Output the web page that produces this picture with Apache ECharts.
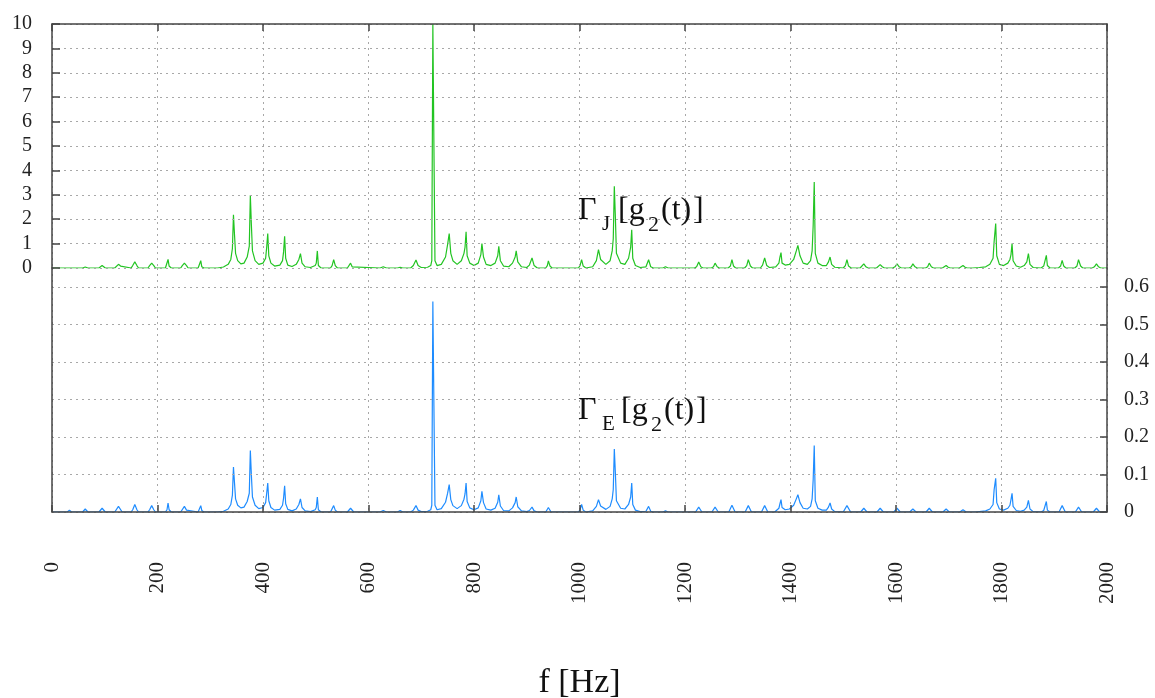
<!DOCTYPE html>
<html>
<head>
<meta charset="utf-8">
<script src="https://cdn.jsdelivr.net/npm/echarts@6/dist/echarts.min.js"></script>
<style>
html,body{margin:0;padding:0;background:#fff;}
#chart{width:1155px;height:698px;}
</style>
</head>
<body>
<div id="chart"></div>
<script>
// ---------- data ----------
const xTicks = [0, 200, 400, 600, 800, 1000, 1200, 1400, 1600, 1800, 2000];
const topTicks = [0, 1, 2, 3, 4, 5, 6, 7, 8, 9, 10];
const bottomTicks = [0, 0.1, 0.2, 0.3, 0.4, 0.5, 0.6];

// Gamma_J[g2(t)] spectrum  [f (Hz), value]
const gammaJ = [
[0,0],
[58,0],[63,0.04],[68,0],
[89,0],[95,0.1],[101,0],
[119,0],[122,0.08],[126,0.15],[130,0.08],[133,0],
[150,0],[153,0.1],[157,0.25],[161,0.1],[164,0],
[182,0],[185,0.1],[189,0.2],[193,0.1],[196,0],
[215,0],[218,0.08],[220,0.35],[222,0.08],[226,0],
[244,0],[247,0.1],[251,0.2],[255,0.1],[258,0],
[277,0],[280,0.06],[282,0.3],[284,0.05],[288,0],
[314,0],[325,0.04],[334,0.15],[339,0.35],[342,0.8],[344,2.18],[346,1.35],[348,0.6],[352,0.3],[358,0.17],
[364,0.2],[370,0.45],[374,0.9],[376,2.98],[378,1.75],[380,0.7],[385,0.3],[392,0.15],
[400,0.2],[405,0.4],[407,0.85],[409,1.41],[411,0.5],[415,0.2],[422,0.08],
[432,0.12],[437,0.3],[439,0.66],[441,1.3],[443,0.4],[447,0.12],[455,0.06],
[463,0.15],[468,0.35],[471,0.59],[474,0.2],[480,0.05],[490,0.02],
[499,0.1],[501,0.2],[503,0.7],[505,0.1],[510,0],
[528,0],[531,0.1],[534,0.34],[537,0.1],[541,0],
[560,0],[563,0.05],[566,0.2],[569,0.05],[572,0],
[622,0],[628,0.05],[634,0],
[655,0],[660,0.03],[665,0],
[680,0],[685,0.1],[690,0.33],[694,0.1],[700,0.02],
[712,0.03],[718,0.1],[720,0.3],[722,10],[724,5.03],[726,0.3],[730,0.1],
[738,0.15],[746,0.45],[750,0.97],[753,1.41],[756,0.6],[760,0.3],[768,0.15],
[776,0.3],[781,0.6],[783,0.85],[785,1.48],[787,0.5],[792,0.2],[800,0.1],
[808,0.2],[813,0.55],[815,1.0],[818,0.45],[823,0.15],[832,0.1],
[840,0.2],[845,0.5],[847,0.89],[850,0.3],[856,0.08],[866,0.05],
[873,0.2],[878,0.45],[880,0.7],[883,0.25],[890,0.05],[900,0.02],
[905,0.12],[910,0.41],[914,0.1],[920,0],
[936,0],[939,0.1],[941,0.29],[944,0.08],[948,0],
[998,0],[1001,0.1],[1004,0.34],[1007,0.08],[1012,0],
[1025,0.05],[1032,0.3],[1036,0.75],[1040,0.35],[1050,0.15],
[1058,0.3],[1062,0.7],[1064,1.2],[1066,3.35],[1068,2.09],[1070,0.6],[1078,0.2],
[1086,0.15],[1093,0.4],[1097,0.86],[1099,1.57],[1101,0.4],[1106,0.1],[1115,0.02],
[1126,0.05],[1131,0.34],[1135,0.05],[1140,0],
[1158,0],[1163,0.05],[1168,0],
[1218,0],[1222,0.05],[1226,0.25],[1230,0.05],[1234,0],
[1250,0],[1254,0.05],[1257,0.2],[1261,0.05],[1265,0],
[1282,0],[1286,0.08],[1289,0.34],[1292,0.08],[1296,0],
[1313,0],[1317,0.1],[1320,0.34],[1324,0.08],[1328,0],
[1343,0],[1347,0.12],[1351,0.41],[1355,0.1],[1360,0.02],
[1372,0.05],[1378,0.2],[1380,0.45],[1382,0.63],[1384,0.2],[1390,0.12],
[1398,0.15],[1406,0.35],[1411,0.7],[1414,0.93],[1418,0.5],[1424,0.2],
[1432,0.15],[1438,0.3],[1441,0.7],[1443,1.75],[1445,3.52],[1447,0.6],[1452,0.2],[1460,0.1],
[1468,0.1],[1472,0.25],[1475,0.45],[1478,0.15],[1484,0.03],
[1500,0],[1504,0.1],[1507,0.34],[1510,0.08],[1515,0],
[1532,0],[1535,0.05],[1539,0.17],[1543,0.05],[1547,0],
[1563,0],[1566,0.05],[1570,0.14],[1574,0.05],[1578,0],
[1594,0],[1598,0.05],[1602,0.17],[1606,0.05],[1610,0],
[1625,0],[1629,0.05],[1632,0.17],[1636,0.05],[1640,0],
[1656,0],[1660,0.05],[1663,0.2],[1667,0.05],[1671,0],
[1688,0],[1691,0.03],[1695,0.1],[1699,0.03],[1703,0],
[1720,0],[1723,0.03],[1727,0.1],[1731,0.03],[1735,0],
[1745,0],[1758,0.02],[1770,0.05],[1778,0.15],[1784,0.4],[1786,1.07],[1789,1.82],[1791,0.5],[1796,0.15],
[1804,0.1],[1812,0.2],[1816,0.35],[1818,0.55],[1820,1.0],[1822,0.3],[1828,0.08],[1836,0.03],
[1843,0.1],[1848,0.25],[1851,0.59],[1854,0.15],[1860,0.02],
[1875,0],[1880,0.08],[1883,0.15],[1885,0.52],[1887,0.1],[1892,0],
[1908,0],[1912,0.08],[1915,0.31],[1918,0.08],[1922,0],
[1939,0],[1943,0.08],[1946,0.34],[1950,0.08],[1954,0],
[1972,0],[1976,0.05],[1980,0.17],[1984,0.05],[1988,0],
[2000,0]
];

// Gamma_E[g2(t)] spectrum  [f (Hz), value]
const gammaE = [
[0,0],
[29,0],[33,0.005],[37,0],
[58,0],[63,0.008],[68,0],
[89,0],[95,0.01],[101,0],
[119,0],[126,0.015],[133,0],
[150,0],[153,0.006],[157,0.02],[161,0.006],[164,0],
[182,0],[185,0.006],[189,0.017],[193,0.006],[196,0],
[215,0],[218,0.006],[220,0.024],[222,0.006],[226,0],
[244,0],[247,0.005],[251,0.015],[255,0.005],[258,0],
[277,0],[280,0.005],[282,0.017],[284,0.004],[288,0],
[314,0],[325,0.002],[334,0.008],[339,0.02],[342,0.045],[344,0.12],[346,0.077],[348,0.035],[352,0.018],[358,0.011],
[364,0.013],[370,0.028],[374,0.05],[376,0.164],[378,0.097],[380,0.04],[385,0.018],[392,0.009],
[400,0.012],[405,0.025],[407,0.05],[409,0.077],[411,0.03],[415,0.012],[422,0.005],
[432,0.007],[437,0.018],[439,0.037],[441,0.07],[443,0.022],[447,0.007],[455,0.003],
[463,0.008],[468,0.02],[471,0.035],[474,0.012],[480,0.003],[490,0.001],
[499,0.006],[501,0.012],[503,0.04],[505,0.006],[510,0],
[528,0],[531,0.005],[534,0.017],[537,0.005],[541,0],
[560,0],[566,0.01],[572,0],
[622,0],[628,0.004],[634,0],
[655,0],[660,0.004],[665,0],
[680,0],[685,0.005],[690,0.017],[694,0.005],[700,0.001],
[712,0.002],[718,0.006],[720,0.018],[722,0.561],[724,0.283],[726,0.018],[730,0.006],
[738,0.009],[746,0.026],[750,0.05],[753,0.073],[756,0.033],[760,0.017],[768,0.009],
[776,0.017],[781,0.034],[783,0.048],[785,0.077],[787,0.028],[792,0.011],[800,0.006],
[808,0.011],[813,0.03],[815,0.055],[818,0.025],[823,0.008],[832,0.005],
[840,0.01],[845,0.026],[847,0.046],[850,0.016],[856,0.004],[866,0.003],
[873,0.011],[878,0.025],[880,0.04],[883,0.014],[890,0.003],[900,0.001],
[905,0.004],[910,0.013],[914,0.003],[920,0],
[936,0],[941,0.012],[946,0],
[998,0],[1001,0.006],[1004,0.02],[1007,0.005],[1012,0],
[1025,0.003],[1032,0.015],[1036,0.033],[1040,0.016],[1050,0.007],
[1058,0.015],[1062,0.035],[1064,0.06],[1066,0.168],[1068,0.104],[1070,0.03],[1078,0.01],
[1086,0.008],[1093,0.02],[1097,0.04],[1099,0.077],[1101,0.02],[1106,0.005],[1115,0.001],
[1126,0.002],[1131,0.015],[1135,0.002],[1140,0],
[1158,0],[1163,0.003],[1168,0],
[1220,0],[1226,0.013],[1232,0],
[1251,0],[1257,0.013],[1263,0],
[1283,0],[1289,0.018],[1295,0],
[1314,0],[1320,0.017],[1326,0],
[1345,0],[1351,0.017],[1357,0],
[1370,0],[1378,0.01],[1380,0.022],[1382,0.033],[1384,0.012],[1390,0.006],
[1398,0.008],[1406,0.018],[1411,0.035],[1414,0.046],[1418,0.025],[1424,0.01],
[1432,0.008],[1438,0.015],[1441,0.035],[1443,0.086],[1445,0.177],[1447,0.03],[1452,0.01],[1460,0.005],
[1468,0.005],[1472,0.013],[1475,0.024],[1478,0.008],[1484,0.001],
[1500,0],[1507,0.017],[1514,0],
[1533,0],[1539,0.01],[1545,0],
[1564,0],[1570,0.01],[1576,0],
[1596,0],[1602,0.01],[1608,0],
[1626,0],[1632,0.008],[1638,0],
[1657,0],[1663,0.01],[1669,0],
[1689,0],[1695,0.008],[1701,0],
[1721,0],[1727,0.006],[1733,0],
[1750,0],[1770,0.003],[1778,0.008],[1784,0.02],[1786,0.059],[1789,0.09],[1791,0.025],[1796,0.008],
[1804,0.005],[1812,0.01],[1816,0.018],[1818,0.033],[1820,0.05],[1822,0.015],[1828,0.004],[1836,0.002],
[1843,0.005],[1848,0.013],[1851,0.031],[1854,0.008],[1860,0.001],
[1875,0],[1880,0.004],[1883,0.008],[1885,0.028],[1887,0.005],[1892,0],
[1909,0],[1915,0.017],[1921,0],
[1940,0],[1946,0.013],[1952,0],
[1974,0],[1980,0.01],[1986,0],
[2000,0]
];

// annotation text pieces: Γ, subscript, "[g", subscript, "(t)", "]"
const labelJ = ['Γ', 'J', '[g', '2', '(t)', ']'];
const labelE = ['Γ', 'E', '[g', '2', '(t)', ']'];
const xName = 'f [Hz]';

// ---------- chart ----------
const FONT = 'Liberation Serif';
const AXIS_COLOR = '#444';
const GRID_LINE = {show: true, lineStyle: {color: '#a8a8a8', type: [2, 4], width: 1}};
const AXIS_LINE = {show: true, onZero: false, lineStyle: {color: AXIS_COLOR, width: 1.5}};

const chart = echarts.init(document.getElementById('chart'), null, {renderer: 'canvas'});

function annotation(parts, x0, yMid, subDx) {
  const big = 32, small = 21;
  const pieces = [
    {t: parts[0], dx: 0, dy: 0, fs: big},
    {t: parts[1], dx: 24, dy: 13, fs: small},
    {t: parts[2], dx: 40 + subDx, dy: 0, fs: big},
    {t: parts[3], dx: 70 + subDx, dy: 14, fs: small + 1},
    {t: parts[4], dx: 83 + subDx, dy: 0, fs: big},
    {t: parts[5], dx: 115 + subDx, dy: 0, fs: big}
  ];
  return {
    type: 'group', left: x0, top: yMid - 16, z: 10,
    children: pieces.map(p => ({
      type: 'text', x: p.dx, y: 16 + p.dy, z: 10,
      style: {text: p.t, fontFamily: FONT, fontSize: p.fs, fill: '#111', verticalAlign: 'middle', align: 'left'}
    }))
  };
}

const option = {
  animation: false,
  backgroundColor: '#fff',
  grid: [
    {left: 52, width: 1055, top: 24, height: 244, containLabel: false, outerBoundsMode: 'none'},
    {left: 52, width: 1055, top: 268, height: 244, containLabel: false, outerBoundsMode: 'none'}
  ],
  xAxis: [
    {
      gridIndex: 0, type: 'value', position: 'top', min: xTicks[0], max: xTicks[xTicks.length - 1], interval: 200,
      axisLine: AXIS_LINE,
      axisTick: {show: true, inside: true, length: 7, lineStyle: {color: AXIS_COLOR, width: 1.5}},
      axisLabel: {show: false},
      splitLine: GRID_LINE, z: 5
    },
    {
      gridIndex: 1, type: 'value', position: 'bottom', min: xTicks[0], max: xTicks[xTicks.length - 1], interval: 200,
      axisLine: AXIS_LINE,
      axisTick: {show: true, inside: true, length: 7, lineStyle: {color: AXIS_COLOR, width: 1.5}},
      axisLabel: {show: true, rotate: 90, margin: 50, fontFamily: FONT, fontSize: 21, color: '#222',
        formatter: function (v) { return String(v); }},
      splitLine: GRID_LINE,
      name: xName, nameLocation: 'middle', nameGap: 154,
      nameTextStyle: {fontFamily: FONT, fontSize: 34, color: '#111'},
      z: 5
    }
  ],
  yAxis: [
    {
      gridIndex: 0, type: 'value', position: 'left', min: topTicks[0], max: topTicks[topTicks.length - 1], interval: 1,
      axisLine: AXIS_LINE,
      axisTick: {show: true, inside: true, length: 8, lineStyle: {color: AXIS_COLOR, width: 1.5}},
      axisLabel: {show: true, margin: 20, fontFamily: FONT, fontSize: 20, color: '#222'},
      splitLine: GRID_LINE, z: 5
    },
    {
      gridIndex: 0, type: 'value', position: 'right', min: 0, max: 10, interval: 10,
      axisLine: AXIS_LINE,
      axisTick: {show: false}, axisLabel: {show: false}, splitLine: {show: false}, z: 5
    },
    {
      gridIndex: 1, type: 'value', position: 'right', min: bottomTicks[0], max: 0.65, interval: 0.1,
      axisLine: AXIS_LINE,
      axisTick: {show: true, inside: true, length: 7, lineStyle: {color: AXIS_COLOR, width: 1.5}},
      axisLabel: {
        show: true, margin: 17, fontFamily: FONT, fontSize: 20, color: '#222', showMaxLabel: false,
        formatter: function (v) {
          const r = Math.round(v * 10) / 10;
          return bottomTicks.indexOf(r) >= 0 && Math.abs(v - r) < 1e-6 ? String(r) : '';
        }
      },
      splitLine: GRID_LINE, z: 5
    },
    {
      gridIndex: 1, type: 'value', position: 'left', min: 0, max: 0.65, interval: 0.65,
      axisLine: AXIS_LINE,
      axisTick: {show: false}, axisLabel: {show: false}, splitLine: {show: false}, z: 5
    }
  ],
  series: [
    {
      type: 'line', xAxisIndex: 0, yAxisIndex: 0, data: gammaJ, showSymbol: false, symbol: 'none',
      lineStyle: {color: '#22c422', width: 1.2}, clip: true, z: 3
    },
    {
      type: 'line', xAxisIndex: 1, yAxisIndex: 2, data: gammaE, showSymbol: false, symbol: 'none',
      lineStyle: {color: '#1e8cff', width: 1.2}, clip: true, z: 3
    }
  ],
  graphic: [
    annotation(labelJ, 578, 211, 0),
    annotation(labelE, 578, 411, 3)
  ]
};
chart.setOption(option);
</script>
</body>
</html>
